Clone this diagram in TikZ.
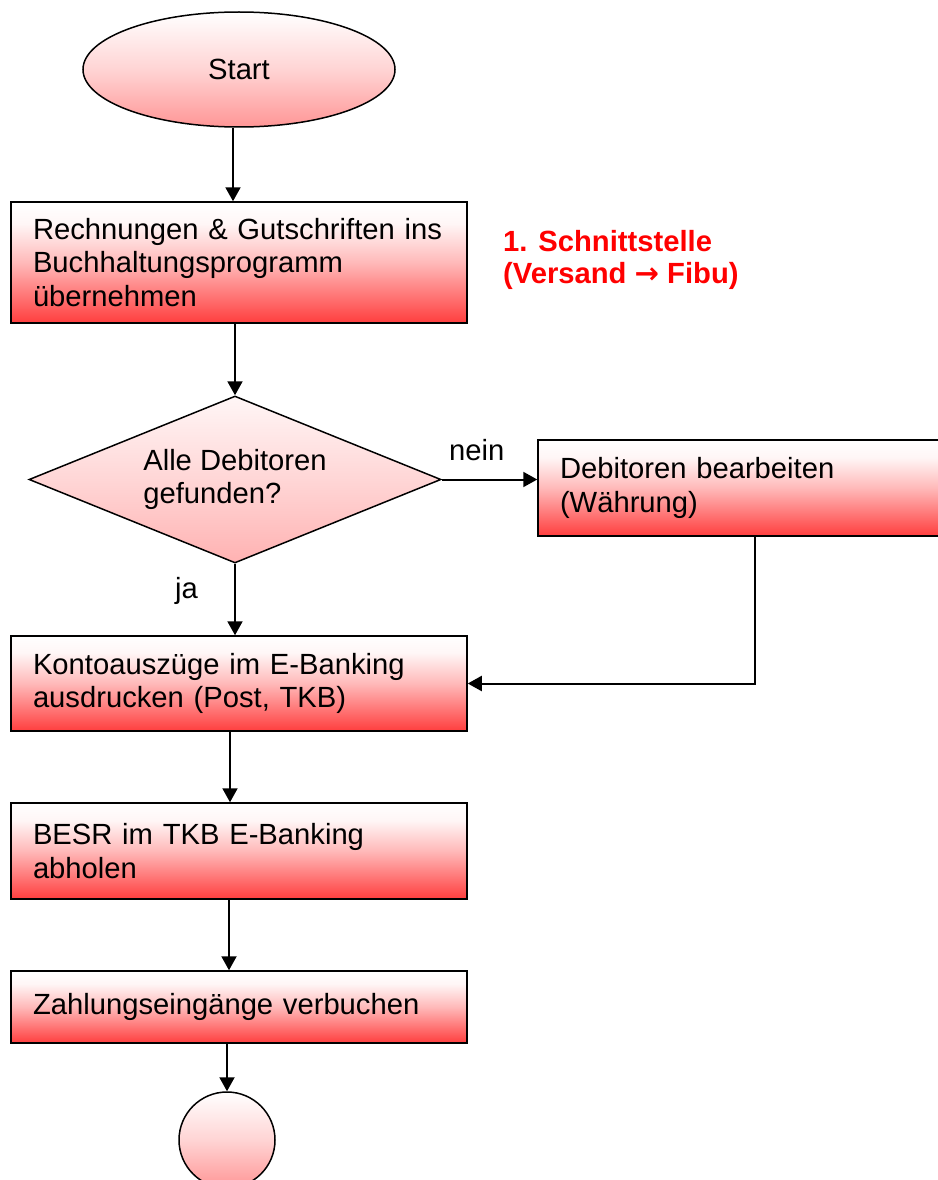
\documentclass[tikz,border=0pt]{standalone}
\usepackage{fontspec}
\setmainfont{Liberation Sans}
\newfontfamily\arrowfont{DejaVu Sans}
\usetikzlibrary{shapes.geometric,arrows.meta}
\definecolor{bred}{RGB}{255,62,62}
\definecolor{bmid}{RGB}{255,185,185}
\definecolor{btop}{RGB}{255,246,246}
\definecolor{dbot}{RGB}{255,178,178}
\definecolor{dmid}{RGB}{255,214,214}
\definecolor{ebot}{RGB}{255,150,150}
\definecolor{emid}{RGB}{255,212,212}
\pgfdeclareverticalshading{boxshade}{100bp}{color(0bp)=(bred); color(25bp)=(bred); color(50bp)=(bmid); color(66bp)=(btop); color(75bp)=(white); color(100bp)=(white)}
\pgfdeclareverticalshading{diashade}{100bp}{color(0bp)=(dbot); color(25bp)=(dbot); color(50bp)=(dmid); color(75bp)=(btop); color(100bp)=(btop)}
\pgfdeclareverticalshading{ellshade}{100bp}{color(0bp)=(ebot); color(25bp)=(ebot); color(50bp)=(emid); color(75bp)=(white); color(100bp)=(white)}
\begin{document}
\begin{tikzpicture}[x=1pt,y=-1pt,
  font=\fontsize{29.2}{33.6}\selectfont,
  procbox/.style={draw, line width=1.5pt, shade, shading=boxshade, align=left, inner xsep=22pt, inner ysep=0pt},
  ell/.style={ellipse, draw, line width=1.5pt, shade, shading=ellshade, inner sep=0pt},
  dia/.style={diamond, aspect=2.47, draw, line width=1.5pt, shade, shading=diashade, align=left, inner sep=0pt},
  arr/.style={line width=2pt, -{Triangle[width=15pt,length=14pt]}},
  lbl/.style={anchor=base west, inner sep=0pt}]
\fill[white] (0,0) rectangle (937,1180);
\useasboundingbox (0,0) rectangle (937,1180);

\node[ell, minimum width=312pt, minimum height=115pt] (start) at (239,69.5) {Start};

\node[procbox, text width=412pt, minimum height=121pt] (b1) at (239,262.5)
  {Rechnungen \& Gutschriften ins\\Buchhaltungsprogramm\\übernehmen};

\node[anchor=north west, inner sep=0pt, text=red, align=left,
  font=\fontsize{29.2}{32}\selectfont\bfseries] (iface) at (503,230)
  {1. Schnittstelle\\(Versand {\arrowfont\bfseries →} Fibu)};

\node[dia, minimum width=412pt, minimum height=167pt] (dec) at (235,479.5)
  {Alle Debitoren\\gefunden?};

\node[procbox, text width=396pt, minimum height=96pt] (b2) at (758,488)
  {Debitoren bearbeiten\\(Währung)};

\node[procbox, text width=412pt, minimum height=95pt] (b3) at (239,683.5)
  {Kontoauszüge im E-Banking\\ausdrucken (Post, TKB)};

\node[procbox, text width=412pt, minimum height=96pt] (b4) at (239,851)
  {BESR im TKB E-Banking\\abholen};

\node[procbox, text width=412pt, minimum height=72pt] (b5) at (239,1007)
  {Zahlungseingänge verbuchen};

\node[circle, draw, line width=1.5pt, shade, shading=ellshade, minimum size=96pt, inner sep=0pt] (end) at (227,1140) {};

\node[lbl] (nein) at (449,460) {nein};
\node[lbl] (ja) at (175,598) {ja};

\draw[arr] ([xshift=-6pt]start.south) -- ([xshift=-6pt]start.south |- b1.north);
\draw[arr] (dec.north |- b1.south) -- (dec.north);
\draw[arr] (dec.east) -- (dec.east -| b2.west);
\draw[arr] (dec.south) -- (dec.south |- b3.north);
\draw[arr] ([xshift=-3pt]b2.south) |- (b3.east);
\draw[arr] ([xshift=-9pt]b3.south) -- ([xshift=-9pt]b3.south |- b4.north);
\draw[arr] ([xshift=-10pt]b4.south) -- ([xshift=-10pt]b4.south |- b5.north);
\draw[arr] (end.north |- b5.south) -- (end.north);
\end{tikzpicture}
\end{document}
